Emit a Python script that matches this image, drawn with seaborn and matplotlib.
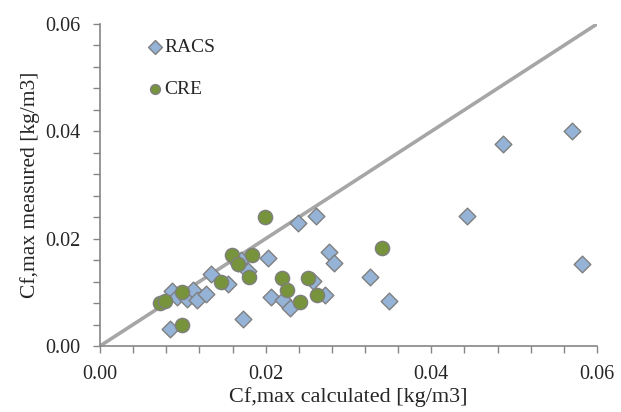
import matplotlib
matplotlib.use("Agg")
import matplotlib.pyplot as plt
import seaborn as sns
import pandas as pd
from matplotlib.ticker import MultipleLocator, FormatStrFormatter

# Data (values in kg/m3)
racs_calc = [0.0084, 0.0087, 0.0093, 0.0105, 0.0112, 0.0117, 0.0128, 0.0134, 0.0154, 0.0166,
             0.0170, 0.0173, 0.0179, 0.0203, 0.0207, 0.0221, 0.0229, 0.0239, 0.0261, 0.0257,
             0.0272, 0.0276, 0.0283, 0.0326, 0.0349, 0.0443, 0.0487, 0.0570, 0.0582]
racs_meas = [0.0031, 0.0102, 0.0091, 0.0088, 0.0104, 0.0086, 0.0097, 0.0135, 0.0115, 0.0155,
             0.0160, 0.0050, 0.0140, 0.0164, 0.0092, 0.0086, 0.0070, 0.0230, 0.0242, 0.0122,
             0.0095, 0.0176, 0.0154, 0.0128, 0.0084, 0.0242, 0.0376, 0.0401, 0.0153]
cre_calc = [0.0072, 0.0078, 0.0099, 0.0099, 0.0146, 0.0159, 0.0166, 0.0183, 0.0180, 0.0199,
            0.0220, 0.0226, 0.0241, 0.0251, 0.0262, 0.0340]
cre_meas = [0.0080, 0.0083, 0.0040, 0.0100, 0.0120, 0.0170, 0.0152, 0.0170, 0.0128, 0.0240,
            0.0126, 0.0105, 0.0082, 0.0126, 0.0095, 0.0183]
line_x = [0.0, 0.06]
line_y = [0.0, 0.06]

sns.set_style("white")
plt.rcParams['font.family'] = ['Liberation Serif', 'DejaVu Serif']

fig = plt.figure(figsize=(6.21, 4.12), dpi=100)
ax = fig.add_axes([100/621, 66/412, 497/621, 322/412])

ax.plot(line_x, line_y, color="#A6A6A6", lw=2.6, zorder=1, solid_capstyle="butt")

df_r = pd.DataFrame({"x": racs_calc, "y": racs_meas})
df_c = pd.DataFrame({"x": cre_calc, "y": cre_meas})
sns.scatterplot(data=df_r, x="x", y="y", ax=ax, marker="D", s=72, color="#95B3D7",
                edgecolor="#7F7F7F", linewidth=1.0, label="RACS", zorder=2)
sns.scatterplot(data=df_c, x="x", y="y", ax=ax, marker="o", s=105, color="#77933C",
                edgecolor="#7F7F7F", linewidth=1.0, label="CRE", zorder=3)

ax.set_xlim(0, 0.06)
ax.set_ylim(0, 0.06)
ax.xaxis.set_major_locator(MultipleLocator(0.02))
ax.yaxis.set_major_locator(MultipleLocator(0.02))
ax.xaxis.set_minor_locator(MultipleLocator(0.004))
ax.yaxis.set_minor_locator(MultipleLocator(0.004))
ax.xaxis.set_major_formatter(FormatStrFormatter("%.2f"))
ax.yaxis.set_major_formatter(FormatStrFormatter("%.2f"))
ax.tick_params(axis="both", which="both", direction="out", length=5, width=1,
               color="#868686", labelsize=14.5, bottom=True, left=True)
ax.tick_params(axis="x", which="major", pad=9)
ax.tick_params(axis="y", which="major", pad=9)
for s in ["top", "right"]:
    ax.spines[s].set_visible(False)
for s in ["left", "bottom"]:
    ax.spines[s].set_color("#868686")
    ax.spines[s].set_linewidth(1.2)

ax.set_xlabel("Cf,max calculated [kg/m3]", fontsize=16, labelpad=2)
ax.set_ylabel("Cf,max measured [kg/m3]", fontsize=15.5, labelpad=4)

leg = ax.legend(loc="upper left", bbox_to_anchor=(0.075, 0.978), frameon=False,
                fontsize=14, labelspacing=1.25, handletextpad=0.0, handlelength=1.0,
                borderaxespad=0)
for h in leg.legend_handles:
    try:
        h.set_sizes([50])
    except Exception:
        pass

fig.savefig("out.png", dpi=100)
